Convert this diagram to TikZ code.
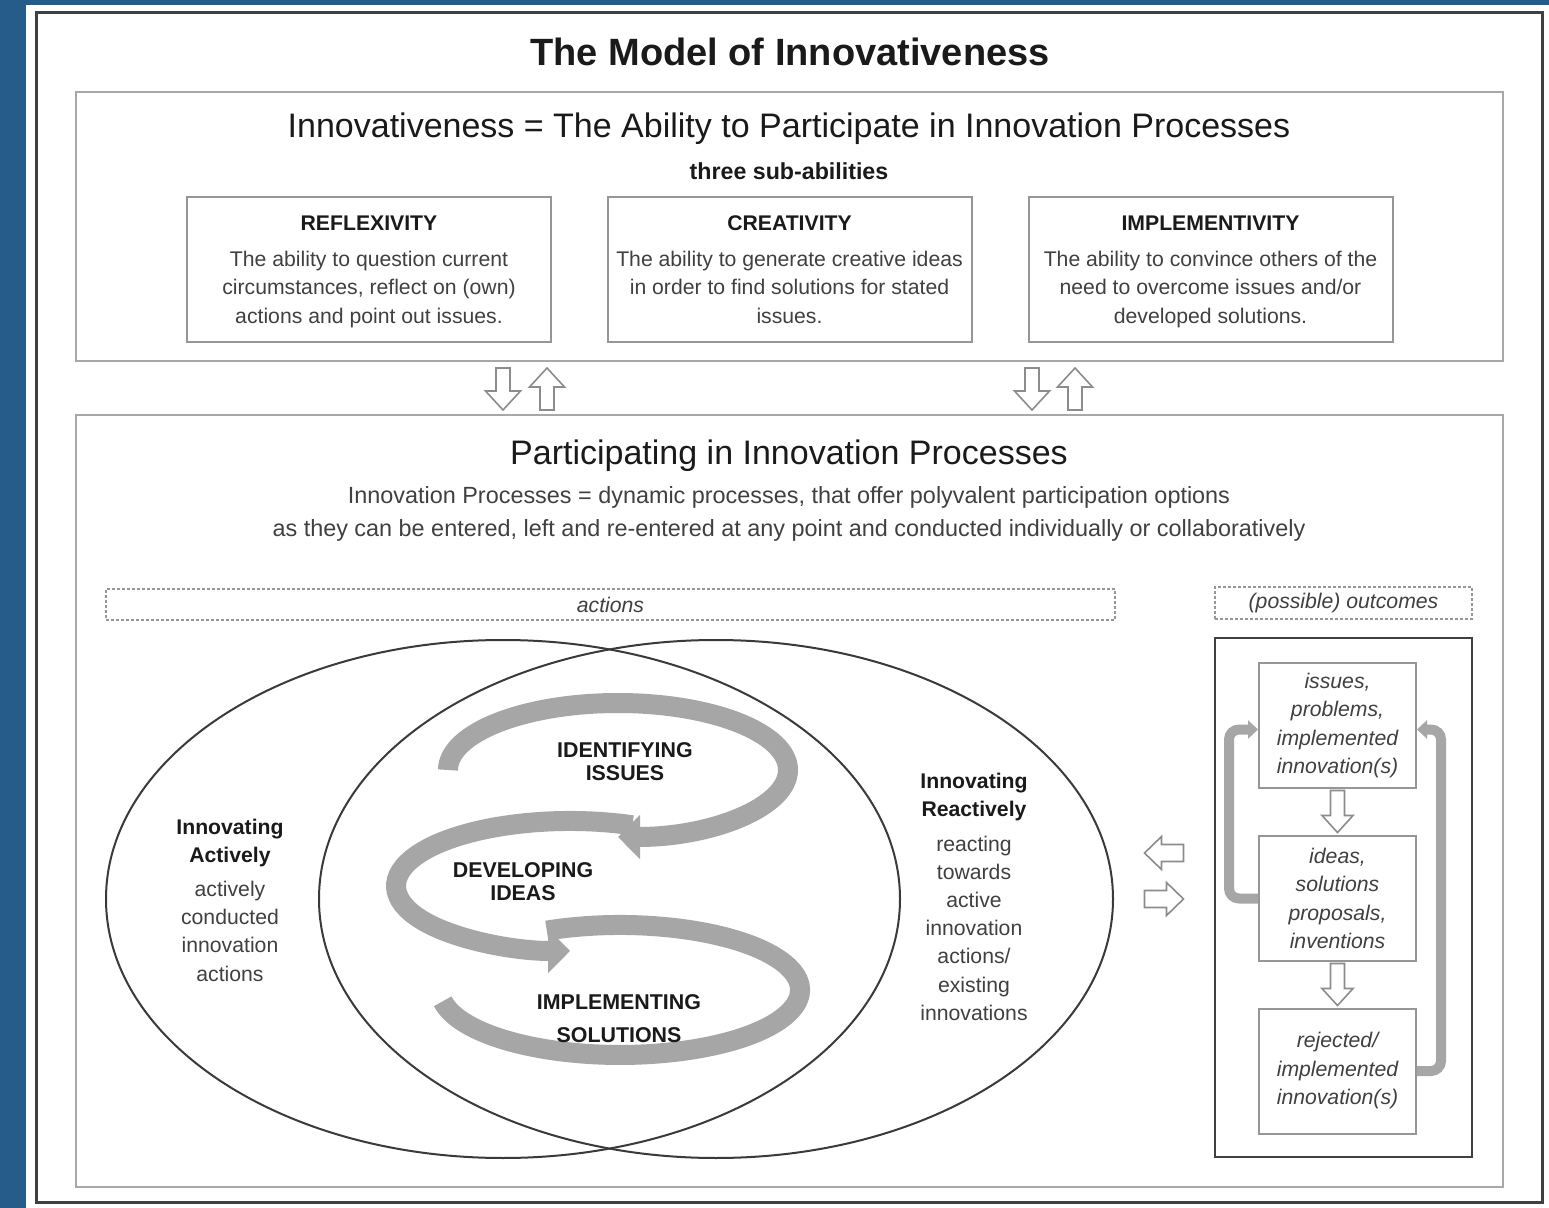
\documentclass[tikz,border=0pt]{standalone}
\usepackage{fontspec}
\setmainfont{Liberation Sans}
\usetikzlibrary{arrows.meta,shapes.geometric,calc}
\definecolor{bgblue}{RGB}{37,92,138}
\definecolor{framedark}{RGB}{64,64,64}
\definecolor{boxgray}{RGB}{168,168,168}
\definecolor{subgray}{RGB}{150,150,150}
\definecolor{ellgray}{RGB}{58,58,58}
\definecolor{sgray}{RGB}{166,166,166}
\definecolor{arrgray}{RGB}{140,140,140}
\definecolor{txtdark}{RGB}{26,26,26}
\definecolor{txtgray}{RGB}{64,64,64}
\newcommand\fsz[2]{\fontsize{#1}{#2}\selectfont}
% hollow block arrows: centre x, centre y, length, head width, shaft width, head length
\newcommand\harrD[6]{\draw[hol] (#1-#5/2,#2-#3/2) -- (#1-#5/2,#2+#3/2-#6) -- (#1-#4/2,#2+#3/2-#6)
  -- (#1,#2+#3/2) -- (#1+#4/2,#2+#3/2-#6) -- (#1+#5/2,#2+#3/2-#6) -- (#1+#5/2,#2-#3/2) -- cycle;}
\newcommand\harrU[6]{\draw[hol] (#1-#5/2,#2+#3/2) -- (#1-#5/2,#2-#3/2+#6) -- (#1-#4/2,#2-#3/2+#6)
  -- (#1,#2-#3/2) -- (#1+#4/2,#2-#3/2+#6) -- (#1+#5/2,#2-#3/2+#6) -- (#1+#5/2,#2+#3/2) -- cycle;}
\newcommand\harrR[6]{\draw[hol] (#1-#3/2,#2-#5/2) -- (#1+#3/2-#6,#2-#5/2) -- (#1+#3/2-#6,#2-#4/2)
  -- (#1+#3/2,#2) -- (#1+#3/2-#6,#2+#4/2) -- (#1+#3/2-#6,#2+#5/2) -- (#1-#3/2,#2+#5/2) -- cycle;}
\newcommand\harrL[6]{\draw[hol] (#1+#3/2,#2-#5/2) -- (#1-#3/2+#6,#2-#5/2) -- (#1-#3/2+#6,#2-#4/2)
  -- (#1-#3/2,#2) -- (#1-#3/2+#6,#2+#4/2) -- (#1-#3/2+#6,#2+#5/2) -- (#1+#3/2,#2+#5/2) -- cycle;}
\newcommand\hdr[1]{{\color{txtdark}\bfseries\rule{0pt}{9.7pt}#1}}
\begin{document}
\begin{tikzpicture}[x=0.5pt,y=-0.5pt,
  frame/.style={draw=framedark,line width=1.5pt,inner sep=0pt},
  bigbox/.style={draw=boxgray,line width=1.2pt,inner sep=0pt},
  subbox/.style={draw=subgray,line width=1pt,inner sep=0pt,align=center,
    minimum width=182pt,minimum height=72.5pt,text=txtgray,font=\fsz{10.6}{14.25}},
  dbox/.style={draw=subgray,line width=0.8pt,dash pattern=on 1.5pt off 1pt,inner sep=0pt,
    font=\itshape\fsz{10.6}{13},text=txtgray},
  obox/.style={draw=subgray,line width=1pt,inner sep=0pt,align=center,
    minimum width=78.5pt,minimum height=62.5pt,text=txtgray,font=\itshape\fsz{10.6}{14.25}},
  ell/.style={ellipse,draw=ellgray,line width=1pt,inner sep=0pt,
    minimum width=397pt,minimum height=259pt},
  sband/.style={draw=sgray,line width=10pt,line cap=butt},
  stip/.style={-{Triangle[width=21.5pt,length=11pt]}},
  fb/.style={draw=sgray,line width=5pt,rounded corners=5pt,-{Triangle[width=9pt,length=5pt]}},
  hol/.style={draw=arrgray,fill=white,line width=0.8pt,line join=miter},
  lbl/.style={align=center,inner sep=0pt,text=txtdark},
]
\useasboundingbox (0,0) rectangle (1549,1208);
\fill[bgblue] (0,0) rectangle (1549,1208);
\fill[white] (26,5) rectangle (1549,1208);

% frames
\node[frame,minimum width=753pt,minimum height=594.5pt] (outer) at (789,607.5) {};
\node[bigbox,minimum width=713.5pt,minimum height=134.5pt] (topbox) at (789.5,226.5) {};
\node[bigbox,minimum width=713.5pt,minimum height=386pt] (botbox) at (789.5,801) {};

% titles
\node[lbl,font=\bfseries\fsz{19}{22}] (title) at (790,52) {The Model of Innovativeness};
\node[lbl,font=\fsz{17}{20}] (topttl) at (789,129) {Innovativeness = The Ability to Participate in Innovation Processes};
\node[lbl,font=\bfseries\fsz{11.6}{14}] (three) at (789,171) {three sub-abilities};

% sub-abilities
\node[subbox] (refl) at (369,269.5) {\hdr{REFLEXIVITY}\\[3.75pt]
  The ability to question current\\circumstances, reflect on (own)\\actions and point out issues.};
\node[subbox] (crea) at (789.5,269.5) {\hdr{CREATIVITY}\\[3.75pt]
  The ability to generate creative ideas\\in order to find solutions for stated\\issues.\vphantom{p}};
\node[subbox] (impl) at (1210.5,269.5) {\hdr{IMPLEMENTIVITY}\\[3.75pt]
  The ability to convince others of the\\need to overcome issues and/or\\developed solutions.};

% arrows between top and bottom
\harrD{503}{389}{42}{35}{14}{19}
\harrU{547}{389}{42}{35}{14}{19}
\harrD{1032}{389}{42}{35}{14}{19}
\harrU{1075}{389}{42}{35}{14}{19}

% lower part titles
\node[lbl,font=\fsz{17}{20}] (botttl) at (789,456) {Participating in Innovation Processes};
\node[lbl,font=\fsz{11.7}{16.5},text=txtgray] (botsub) at (789,514)
  {Innovation Processes = dynamic processes, that offer polyvalent participation options\\
   as they can be entered, left and re-entered at any point and conducted individually or collaboratively};

\node[dbox,minimum width=504.5pt,minimum height=15.5pt] (actions) at (610.5,604.5) {actions};
\node[dbox,minimum width=128.5pt,minimum height=16pt] (outc) at (1343.5,603) {(possible) outcomes};

% ellipses
\node[ell] (ellL) at (503,899) {};
\node[ell] (ellR) at (716,899) {};

\node[lbl,font=\fsz{10.6}{14.1}] (actT) at (230,900)
  {\bfseries Innovating\\\bfseries Actively\\[3pt]
   \color{txtgray}actively\\\color{txtgray}conducted\\\color{txtgray}innovation\\\color{txtgray}actions};
\node[lbl,font=\fsz{10.6}{14.1}] (reaT) at (974,897)
  {\bfseries Innovating\\\bfseries Reactively\\[3pt]
   \color{txtgray}reacting\\\color{txtgray}towards\\\color{txtgray}active\\\color{txtgray}innovation\\
   \color{txtgray}actions/\\\color{txtgray}existing\\\color{txtgray}innovations};

% S-shaped process arrows
\draw[sband] (546.8,930.6) arc[start angle=246,end angle=530,x radius=180,y radius=65];
\draw[sband,stip] (632.4,825.3) arc[start angle=291,end angle=90,x radius=174,y radius=65];
\draw[sband,stip] (448,770) arc[start angle=180,end angle=450,x radius=170,y radius=67];

\node[lbl,font=\bfseries\fsz{10.7}{11.5}] (idf) at (625,761.5) {IDENTIFYING\\ISSUES};
\node[lbl,font=\bfseries\fsz{10.7}{11.5}] (dev) at (523,881.5) {DEVELOPING\\IDEAS};
\node[lbl,font=\bfseries\fsz{10.7}{16.5}] (imp) at (619,1018.5) {IMPLEMENTING\\SOLUTIONS};

% outcomes
\node[draw=framedark,line width=1pt,inner sep=0pt,minimum width=128.5pt,minimum height=259.5pt] (obox) at (1343.5,897.5) {};
\node[obox] (o1) at (1337.5,725.5) {issues,\\problems,\\implemented\\innovation(s)};
\node[obox] (o2) at (1337.5,898.5) {ideas,\\solutions\\proposals,\\inventions};
\node[obox] (o3) at (1337.5,1071) {rejected/\\implemented\\innovation(s)};

\harrD{1337.5}{811.5}{42}{31}{14}{17}
\harrD{1337.5}{984.5}{42}{31}{14}{17}

\draw[fb] (o2.west) -- ++(-29,0) |- ($(o1.west)+(0,4)$);
\draw[fb] (o3.east) -- ++(24,0) |- ($(o1.east)+(0,4)$);

\harrL{1164}{853}{39}{33}{17}{17}
\harrR{1164}{899}{39}{33}{17}{17}
\end{tikzpicture}
\end{document}
